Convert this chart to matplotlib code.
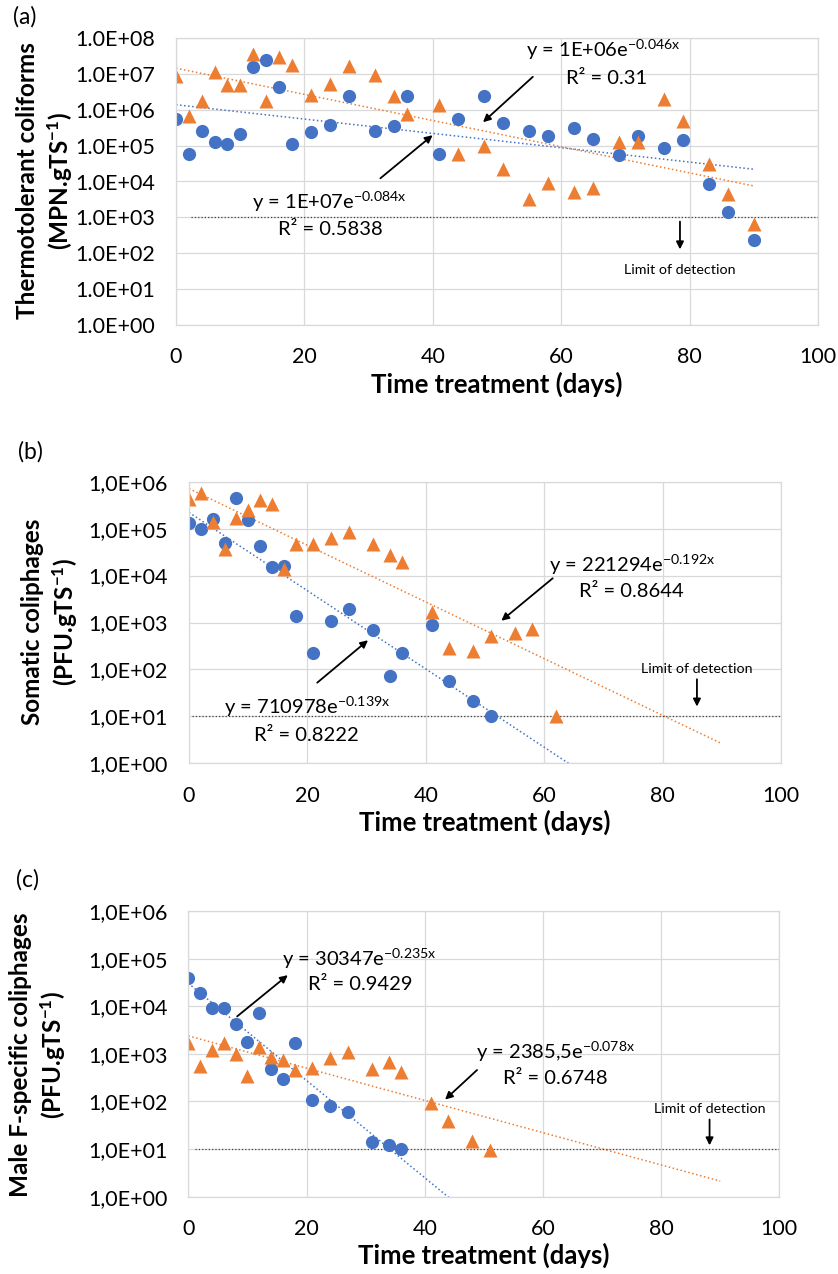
import numpy as np
import matplotlib
matplotlib.use('Agg')
import matplotlib.pyplot as plt
from matplotlib.ticker import FixedLocator, FuncFormatter, NullLocator

plt.rcParams['font.family'] = ['Lato', 'DejaVu Sans']
plt.rcParams['mathtext.fontset'] = 'custom'
plt.rcParams['mathtext.rm'] = 'Lato'
plt.rcParams['mathtext.it'] = 'Lato:italic'
plt.rcParams['mathtext.bf'] = 'Lato:bold'

BLUE = '#4472C4'
ORANGE = '#ED7D31'

# sampling days
days = [0, 2, 4, 6, 8, 10, 12, 14, 16, 18, 21, 24, 27, 31, 34, 36,
        41, 44, 48, 51, 55, 58, 62, 65, 69, 72, 76, 79, 83, 86, 90]

# (a) thermotolerant coliforms
blue_a = [5.5e5, 5.9e4, 2.6e5, 1.3e5, 1.1e5, 2.1e5, 1.6e7, 2.4e7, 4.2e6, 1.1e5,
          2.4e5, 3.7e5, 2.4e6, 2.5e5, 3.6e5, 2.4e6, 5.9e4, 5.6e5, 2.4e6, 4.4e5,
          2.5e5, 1.9e5, 3.1e5, 1.5e5, 5.6e4, 1.9e5, 8.5e4, 1.4e5, 8.7e3, 1.4e3, 2.4e2]
orange_a = [8.8e6, 6.8e5, 1.8e6, 1.1e7, 4.9e6, 4.9e6, 3.6e7, 1.7e6, 3.0e7, 1.8e7,
            2.6e6, 5.3e6, 1.7e7, 9.4e6, 2.4e6, 7.7e5, 1.4e6, 5.9e4, 1.0e5, 2.2e4,
            3.3e3, 9.2e3, 5.0e3, 6.6e3, 1.3e5, 1.3e5, 2.0e6, 5.0e5, 3.0e4, 4.5e3, 6.6e2]

# (b) somatic coliphages
blue_b = [1.3e5, 1.0e5, 1.6e5, 5.0e4, 4.4e5, 1.55e5, 4.3e4, 1.5e4, 1.6e4, 1.4e3,
          2.2e2, 1.1e3, 1.9e3, 7.0e2, 72, 2.2e2, 8.8e2, 58, 21, 10]
orange_b = [4.2e5, 5.7e5, 1.4e5, 3.7e4, 1.7e5, 2.5e5, 4.0e5, 3.4e5, 1.4e4, 4.6e4,
            4.6e4, 6.3e4, 8.5e4, 4.6e4, 2.7e4, 1.9e4, 1.7e3, 2.8e2, 2.5e2, 5.1e2,
            6.1e2, 7.1e2, 10]

# (c) male F-specific coliphages
blue_c = [4.0e4, 1.9e4, 9.0e3, 9.0e3, 4.3e3, 1.8e3, 7.1e3, 4.9e2, 2.9e2, 1.7e3,
          1.05e2, 81, 60, 14, 12, 10]
orange_c = [1.7e3, 5.5e2, 1.2e3, 1.7e3, 1.0e3, 3.5e2, 1.4e3, 8.5e2, 7.5e2, 4.5e2,
            5.0e2, 8.1e2, 1.1e3, 4.7e2, 6.7e2, 4.1e2, 93, 39, 15, 9.6]

# exponential trendlines y = A*exp(-k*x): [A, k]
trend_blue_a = [1.38e6, 0.046]
trend_orange_a = [1.44e7, 0.084]
trend_blue_b = [221294, 0.192]
trend_orange_b = [710978, 0.139]
trend_blue_c = [30347, 0.235]
trend_orange_c = [2385.5, 0.078]

lod = [1e3, 1e1, 1e1]

W, H = 838, 1274
fig = plt.figure(figsize=(W / 100, H / 100), dpi=100)


def add_ax(l, t, r, b):
    return fig.add_axes([l / W, 1 - b / H, (r - l) / W, (b - t) / H])


def setup(ax, top, sep):
    ax.set_yscale('log')
    ax.set_xlim(0, 100)
    ax.set_ylim(1, 10 ** top)
    ax.yaxis.set_major_locator(FixedLocator([10.0 ** e for e in range(top + 1)]))
    ax.yaxis.set_minor_locator(NullLocator())
    ax.yaxis.set_major_formatter(FuncFormatter(
        lambda v, p: '1' + sep + '0E+%02d' % int(round(np.log10(v)))))
    ax.set_xticks(range(0, 101, 20))
    ax.grid(True, color='#d9d9d9', lw=0.9)
    ax.set_axisbelow(True)
    for s in ax.spines.values():
        s.set_color('#d9d9d9')
        s.set_linewidth(0.9)
    ax.tick_params(length=0, labelsize=15.5)
    ax.tick_params(axis='x', pad=16)
    ax.tick_params(axis='y', pad=15)
    ax.set_xlabel('Time treatment (days)', fontsize=18.5, fontweight='bold', labelpad=3)


def draw(ax, xb, yb, xo, yo, tb, to, lim, lim_x0):
    xx = np.linspace(0, 90, 300)
    ax.plot(xx, tb[0] * np.exp(-tb[1] * xx), color=BLUE, ls=':', lw=1.1)
    ax.plot(xx, to[0] * np.exp(-to[1] * xx), color=ORANGE, ls=':', lw=1.1)
    ax.plot([lim_x0, 100], [lim, lim], color='#404040', ls=':', lw=0.9)
    ax.plot(xb, yb, 'o', color=BLUE, ms=9.5, mec='none')
    ax.plot(xo, yo, '^', color=ORANGE, ms=10.5, mec='none')


def eq(ax, x, y, a, k):
    ax.text(x, y, 'y = ' + a + 'e$^{\\mathregular{-' + k + 'x}}$', ha='center', va='center',
            fontsize=14.5)


def r2txt(ax, x, y, r2):
    ax.text(x, y, 'R² = ' + r2, ha='center', va='center', fontsize=14.5)


def arrow(ax, tail, tip):
    ax.annotate('', xy=tip, xytext=tail,
                arrowprops=dict(arrowstyle='-|>', color='black', lw=1.3, mutation_scale=11))


def lodmark(ax, x, y0, y1, ty):
    arrow(ax, (x, y0), (x, y1))
    ax.text(x, ty, 'Limit of detection', ha='center', va='center', fontsize=10.3)


# panel a
ax1 = add_ax(176, 38, 818, 325)
setup(ax1, 8, '.')
draw(ax1, days, blue_a, days, orange_a, trend_blue_a, trend_orange_a, lod[0], 2.4)
eq(ax1, 23.8, 10 ** 3.44, '1E+07', '0.084')
r2txt(ax1, 24.0, 10 ** 2.67, '0.5838')
arrow(ax1, (31.5, 10 ** 4.04), (40.3, 10 ** 5.34))
eq(ax1, 66.5, 10 ** 7.67, '1E+06', '0.046')
r2txt(ax1, 67.0, 10 ** 6.86, '0.31')
arrow(ax1, (55.9, 10 ** 6.97), (47.5, 10 ** 5.6))
lodmark(ax1, 78.5, 10 ** 2.96, 10 ** 2.03, 10 ** 1.53)

# panel b
ax2 = add_ax(189, 481.7, 781, 763.3)
setup(ax2, 6, ',')
draw(ax2, days[:len(blue_b)], blue_b, days[:len(orange_b)], orange_b,
     trend_blue_b, trend_orange_b, lod[1], 0.5)
eq(ax2, 74.9, 10 ** 4.22, '221294', '0.192')
r2txt(ax2, 74.8, 10 ** 3.66, '0.8644')
arrow(ax2, (61.8, 10 ** 3.98), (52.4, 10 ** 3.0))
eq(ax2, 19.9, 10 ** 1.21, '710978', '0.139')
r2txt(ax2, 19.9, 10 ** 0.60, '0.8222')
arrow(ax2, (21.3, 10 ** 1.68), (30.6, 10 ** 2.66))
lodmark(ax2, 85.8, 10 ** 1.85, 10 ** 1.15, 10 ** 2.0)

# panel c
ax3 = add_ax(188.3, 911, 779.3, 1196.7)
setup(ax3, 6, ',')
draw(ax3, days[:len(blue_c)], blue_c, days[:len(orange_c)], orange_c,
     trend_blue_c, trend_orange_c, lod[2], 1.1)
eq(ax3, 29.0, 10 ** 5.0, '30347', '0.235')
r2txt(ax3, 29.05, 10 ** 4.45, '0.9429')
arrow(ax3, (7.9, 10 ** 3.75), (17.2, 10 ** 4.69))
eq(ax3, 62.1, 10 ** 3.05, '2385,5', '0.078')
r2txt(ax3, 62.1, 10 ** 2.49, '0.6748')
arrow(ax3, (49.2, 10 ** 2.70), (43.1, 10 ** 2.0))
lodmark(ax3, 88.2, 10 ** 1.68, 10 ** 1.02, 10 ** 1.84)

# y labels and panel letters
ylabels = ['Thermotolerant coliforms\n(MPN.gTS$^{\\mathbf{-1}}$)',
           'Somatic coliphages\n(PFU.gTS$^{\\mathbf{-1}}$)',
           'Male F-specific coliphages\n(PFU.gTS$^{\\mathbf{-1}}$)']
ypos = [(45, 181), (50, 622), (38, 1055)]
for lab, (x, y) in zip(ylabels, ypos):
    fig.text(x / W, 1 - y / H, lab, rotation=90, ha='center', va='center',
             fontsize=17.5, fontweight='bold', multialignment='center', linespacing=1.3)

for lab, (x, y) in zip(['(a)', '(b)', '(c)'], [(25, 17), (30, 452), (27, 880)]):
    fig.text(x / W, 1 - y / H, lab, ha='center', va='center', fontsize=16.5)

fig.savefig('out.png', dpi=100)
